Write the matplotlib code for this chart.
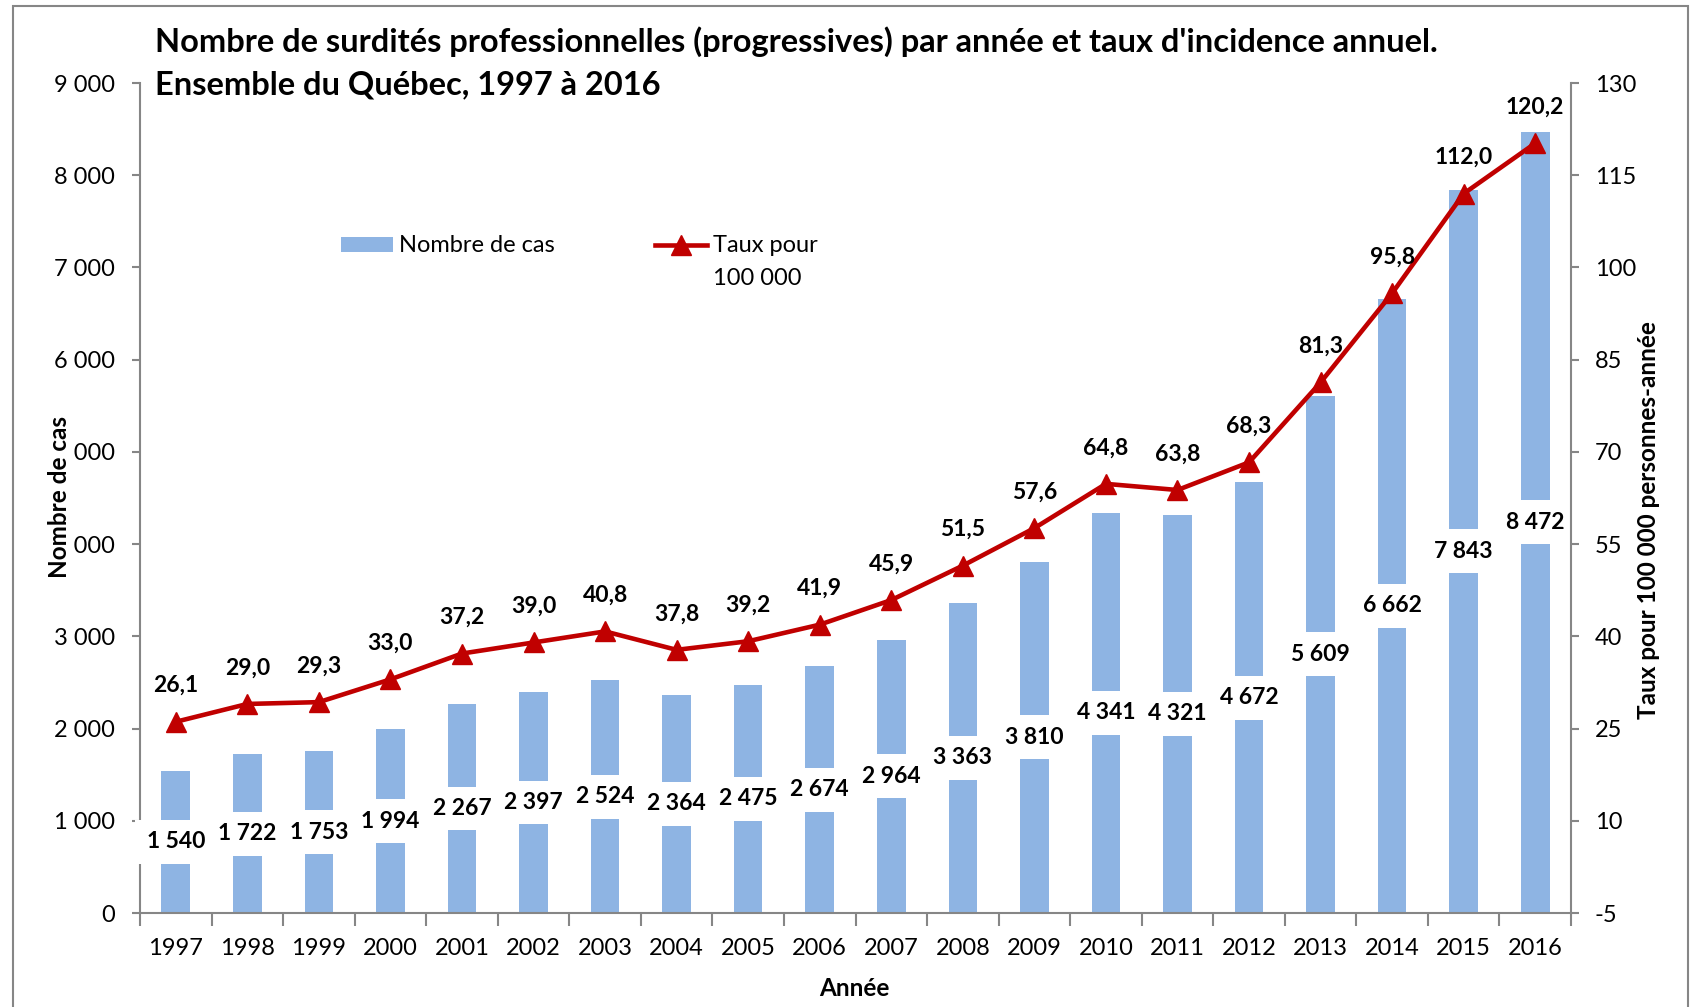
import matplotlib
matplotlib.use("Agg")
import matplotlib.pyplot as plt
from matplotlib.patches import Rectangle, Patch
from matplotlib.lines import Line2D
import numpy as np

plt.rcParams['font.family'] = ['Lato', 'DejaVu Sans']

# ---------------- data ----------------
years = ["1997", "1998", "1999", "2000", "2001", "2002", "2003", "2004", "2005", "2006",
         "2007", "2008", "2009", "2010", "2011", "2012", "2013", "2014", "2015", "2016"]
cases = [1540, 1722, 1753, 1994, 2267, 2397, 2524, 2364, 2475, 2674,
         2964, 3363, 3810, 4341, 4321, 4672, 5609, 6662, 7843, 8472]
rates = [26.1, 29.0, 29.3, 33.0, 37.2, 39.0, 40.8, 37.8, 39.2, 41.9,
         45.9, 51.5, 57.6, 64.8, 63.8, 68.3, 81.3, 95.8, 112.0, 120.2]
left_ticks = [0, 1000, 2000, 3000, 4000, 5000, 6000, 7000, 8000, 9000]
right_ticks = [-5, 10, 25, 40, 55, 70, 85, 100, 115, 130]

title_1 = "Nombre de surdités professionnelles (progressives) par année et taux d'incidence annuel."
title_2 = "Ensemble du Québec, 1997 à 2016"
xlabel = "Année"
ylabel_left = "Nombre de cas"
ylabel_right = "Taux pour 100 000 personnes-année"
legend_bar = "Nombre de cas"
legend_line_1 = "Taux pour"
legend_line_2 = "100 000"

BAR_COLOR = "#8EB4E3"
LINE_COLOR = "#C00000"
SPINE_COLOR = "#868686"

W, H = 1699, 1007
fig = plt.figure(figsize=(W / 100, H / 100), dpi=100)

L, R, T, B = 140, 1571, 83, 913
ax = fig.add_axes([L / W, 1 - B / H, (R - L) / W, (B - T) / H])
ax2 = ax.twinx()

x = np.arange(len(years))
ax.bar(x, cases, width=0.4, color=BAR_COLOR, zorder=1)
ax.set_xlim(-0.5, len(years) - 0.5)
ax.set_ylim(0, 9000)
ax.set_yticks(left_ticks)
ax.set_yticklabels([f"{v:,}".replace(",", " ") for v in left_ticks])

# bar labels centred in bars with white box
for xi, v in zip(x, cases):
    ax.text(xi, v / 2, f"{v:,}".replace(",", " "), ha="center", va="center",
            fontsize=16.5, fontweight="bold", color="black", zorder=4,
            bbox=dict(boxstyle="square,pad=0.5", facecolor="white", edgecolor="none"))

ax2.plot(x, rates, color=LINE_COLOR, lw=3.3, marker="^", markersize=14.5,
         markerfacecolor=LINE_COLOR, markeredgecolor=LINE_COLOR, zorder=3)
ax2.set_ylim(-5, 130)
ax2.set_yticks(right_ticks)
ax2.set_yticklabels([str(v) for v in right_ticks])
for xi, v in zip(x, rates):
    ax2.annotate(f"{v:.1f}".replace(".", ","), (xi, v), xytext=(0, 26),
                 textcoords="offset points", ha="center", va="center",
                 fontsize=16.5, fontweight="bold", color="black")

# x ticks: labels at centers, tick marks at boundaries
ax.set_xticks(x)
ax.set_xticklabels(years)
ax.set_xticks(np.arange(-0.5, len(years), 1.0), minor=True)
ax.tick_params(axis="x", which="major", length=0, pad=18, labelsize=17)
ax.tick_params(axis="x", which="minor", length=9, width=1.5, color=SPINE_COLOR, direction="out")
ax.tick_params(axis="y", which="major", length=6, width=1.5, color=SPINE_COLOR,
               direction="out", pad=12, labelsize=17)
ax2.tick_params(axis="y", which="major", length=6, width=1.5, color=SPINE_COLOR,
                direction="out", pad=11, labelsize=17)

for a in (ax, ax2):
    a.spines["top"].set_visible(False)
    for s in ("left", "right", "bottom"):
        a.spines[s].set_color(SPINE_COLOR)
        a.spines[s].set_linewidth(1.5)
    a.set_facecolor("none")
ax2.spines["left"].set_visible(False)
ax2.spines["bottom"].set_visible(False)
ax.spines["right"].set_visible(False)

# axis titles
fig.text(854 / W, 1 - 988 / H, xlabel, ha="center", va="center", fontsize=17.5, fontweight="bold")
fig.text(60 / W, 1 - 497 / H, ylabel_left, ha="center", va="center", rotation=90,
         fontsize=17.5, fontweight="bold",
         bbox=dict(boxstyle="square,pad=0.0", facecolor="white", edgecolor="none"))
fig.text(1649 / W, 1 - 520 / H, ylabel_right, ha="center", va="center", rotation=90,
         fontsize=17.5, fontweight="bold")

# title
fig.text(155 / W, 1 - 42 / H, title_1, ha="left", va="center", fontsize=23.5, fontweight="bold")
fig.text(155 / W, 1 - 85 / H, title_2, ha="left", va="center", fontsize=23.5, fontweight="bold")

# legend
handles = [Patch(facecolor=BAR_COLOR, edgecolor="none"),
           Line2D([0], [0], color=LINE_COLOR, lw=3.3, marker="^", markersize=14.5)]
leg = ax2.legend(handles, [legend_bar, legend_line_1], ncol=2, frameon=False,
                 loc="center left", bbox_to_anchor=(341 / W, 1 - 246 / H),
                 bbox_transform=fig.transFigure, fontsize=17, borderpad=0,
                 borderaxespad=0, handlelength=2.2, handleheight=0.6,
                 handletextpad=0.25, columnspacing=4.27)
fig.canvas.draw()
t_ext = leg.get_texts()[1].get_window_extent()
fig.text(t_ext.x0 / W, 1 - 278 / H, legend_line_2, ha="left", va="center", fontsize=17)

# outer frame
fig.patches.append(Rectangle((13 / W, -0.02), (1688 - 13) / W, 1 - 6 / H + 0.02,
                             transform=fig.transFigure, fill=False,
                             edgecolor=SPINE_COLOR, lw=1.5))

fig.savefig("out.png", dpi=100)
